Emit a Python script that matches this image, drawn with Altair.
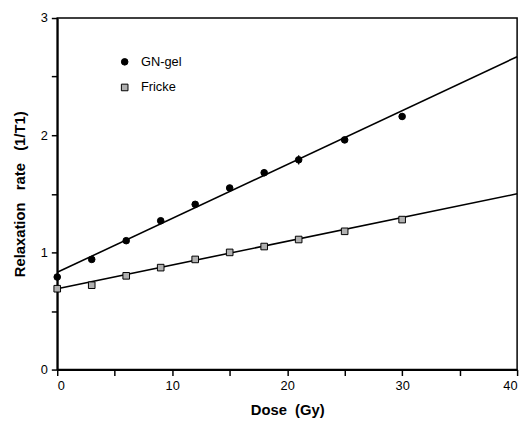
import altair as alt
import pandas as pd

dose = [0, 3, 6, 9, 12, 15, 18, 21, 25, 30]
gn_gel = [0.79, 0.94, 1.10, 1.27, 1.41, 1.55, 1.68, 1.79, 1.96, 2.16]
gn_err = [0.02, 0.01, 0.01, 0.01, 0.02, 0.02, 0.03, 0.04, 0.02, 0.03]
fricke = [0.69, 0.72, 0.80, 0.87, 0.94, 1.00, 1.05, 1.11, 1.18, 1.28]
fricke_err = [0.01, 0.01, 0.01, 0.01, 0.01, 0.01, 0.02, 0.01, 0.01, 0.01]

fit_x = [0, 40]
gn_fit = [0.83, 2.67]
fricke_fit = [0.69, 1.50]

series = ["GN-gel", "Fricke"]

pts = pd.DataFrame({
    "dose": dose + dose,
    "rate": gn_gel + fricke,
    "lo": [v - e for v, e in zip(gn_gel, gn_err)] + [v - e for v, e in zip(fricke, fricke_err)],
    "hi": [v + e for v, e in zip(gn_gel, gn_err)] + [v + e for v, e in zip(fricke, fricke_err)],
    "series": ["GN-gel"] * len(dose) + ["Fricke"] * len(dose),
})
fits = pd.DataFrame({
    "dose": fit_x + fit_x,
    "rate": gn_fit + fricke_fit,
    "series": ["GN-gel"] * 2 + ["Fricke"] * 2,
})

font = "Liberation Sans"
NB = "\u00a0"
xscale = alt.Scale(domain=[0, 40], nice=False)
yscale = alt.Scale(domain=[0, 3], nice=False)

xax = alt.Axis(values=[0, 5, 10, 15, 20, 25, 30, 35, 40],
               labelExpr="datum.value % 10 == 0 ? format(datum.value, 'd') : ''",
               title=f"Dose{NB*2}(Gy)", grid=False)
yax = alt.Axis(values=[0, 0.5, 1, 1.5, 2, 2.5, 3],
               labelExpr="datum.value % 1 == 0 ? format(datum.value, 'd') : ''",
               title=f"Relaxation{NB*3}rate{NB*3}(1/T1)", grid=False)

lines = alt.Chart(fits).mark_line(color="black", strokeWidth=1.6).encode(
    x=alt.X("dose:Q", scale=xscale, axis=xax),
    y=alt.Y("rate:Q", scale=yscale, axis=yax),
    detail="series:N",
)

errs = alt.Chart(pts).mark_rule(color="black", strokeWidth=1.2).encode(
    x="dose:Q", y="lo:Q", y2="hi:Q"
)

leg = alt.Legend(title=None, orient="none", legendX=62, legendY=38,
                 symbolStrokeWidth=1)
points = alt.Chart(pts).mark_point(filled=True, strokeWidth=1, size=45, opacity=1).encode(
    x="dose:Q",
    y="rate:Q",
    fill=alt.Fill("series:N", scale=alt.Scale(domain=series, range=["black", "#b0b0b0"]), legend=leg),
    stroke=alt.Stroke("series:N", scale=alt.Scale(domain=series, range=["black", "black"]), legend=leg),
    shape=alt.Shape("series:N", scale=alt.Scale(domain=series, range=["circle", "square"]), legend=leg),
)

chart = alt.layer(lines, errs, points).properties(
    width=467, height=357,
    autosize=alt.AutoSizeParams(type="none"),
    padding={"left": 50, "top": 7, "right": 7, "bottom": 47},
).configure_view(
    stroke="black", strokeWidth=1.5
).configure_axis(
    domainColor="black", domainWidth=2, tickColor="black", tickWidth=1.5, tickSize=6,
    labelFont=font, labelFontSize=13, labelColor="black", labelPadding=4,
    titleFont=font, titleFontSize=15, titleFontWeight="bold", titleColor="black",
).configure_axisY(titlePadding=13).configure_axisX(titlePadding=11).configure_legend(
    labelFont=font, labelFontSize=13, labelColor="black", symbolSize=45,
    rowPadding=12, labelOffset=10,
)

chart.save("out.html", embed_options={"renderer": "svg", "actions": False})
